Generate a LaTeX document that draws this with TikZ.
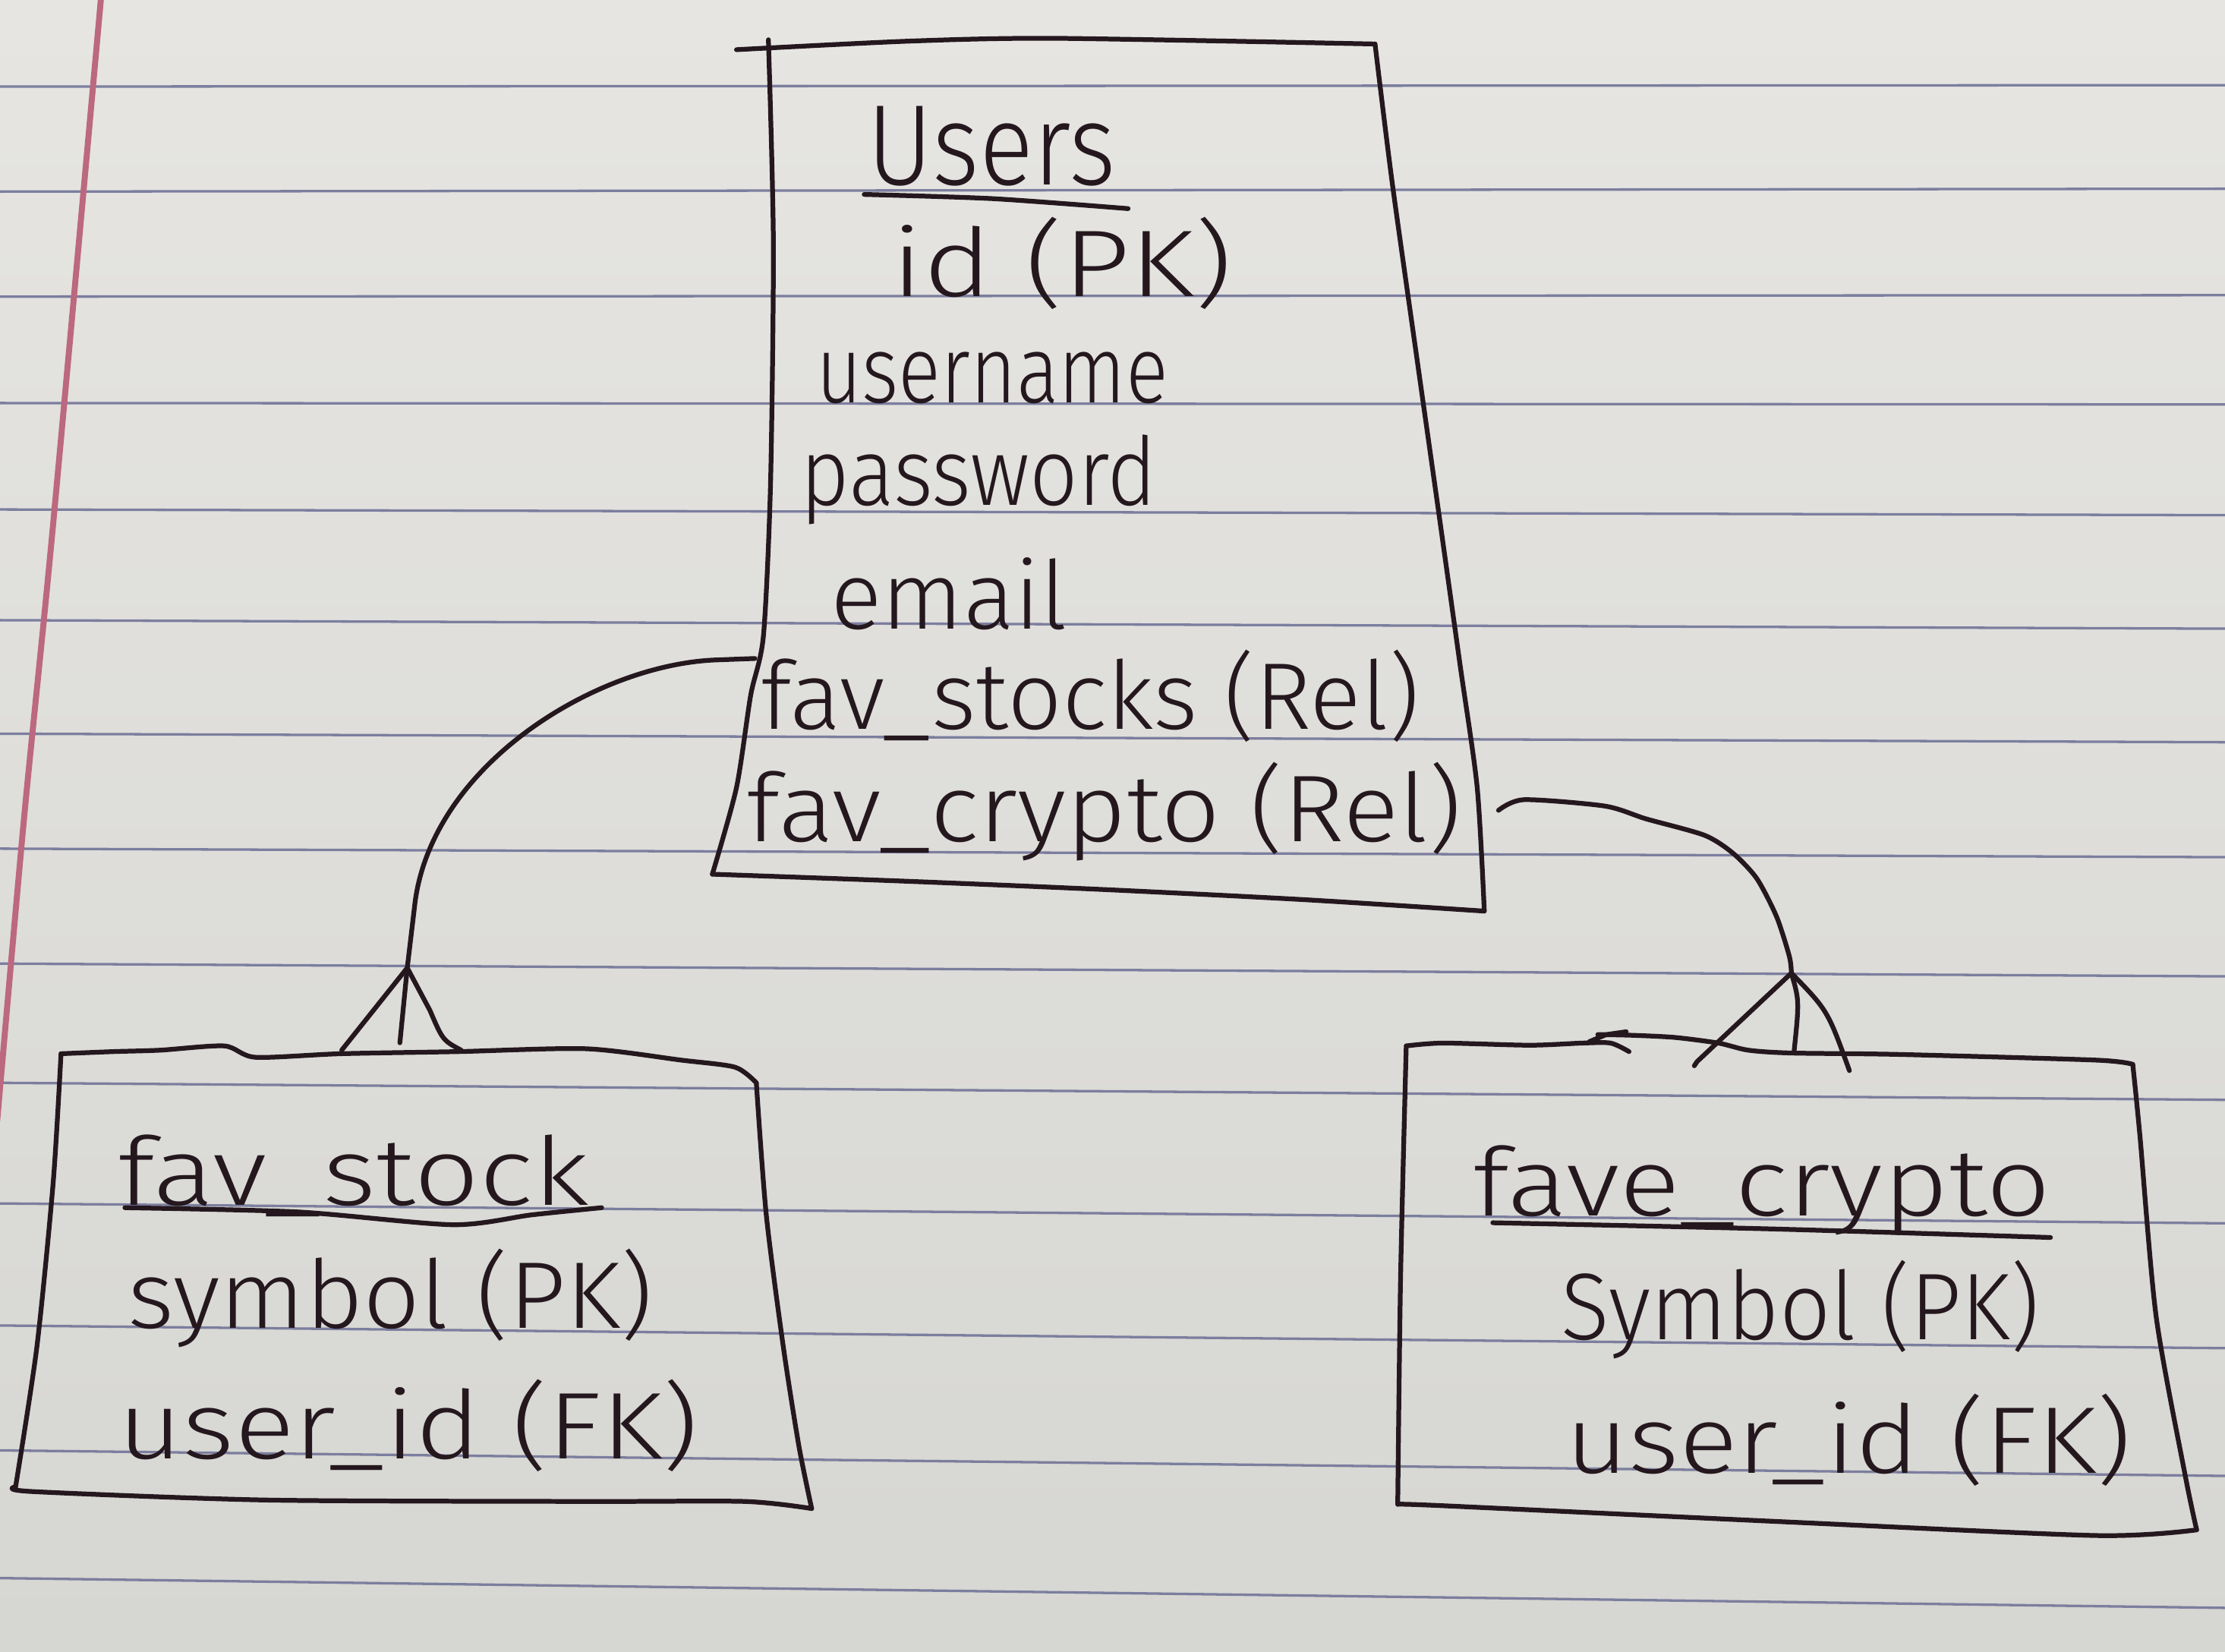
\documentclass[tikz,border=0pt]{standalone}
\usepackage{fontspec}
\setmainfont{Fira Sans Light}
\usepackage{graphicx}
\newlength\pxu \setlength\pxu{0.02cm}
\definecolor{ink}{RGB}{36,24,30}
\definecolor{rulec}{RGB}{124,126,158}
\definecolor{marginc}{RGB}{188,104,126}
\definecolor{papertop}{RGB}{230,229,226}
\definecolor{paperbot}{RGB}{214,214,210}
\newcommand{\hw}[2]{\resizebox{#1\pxu}{\height}{#2}}
\begin{document}
\begin{tikzpicture}[x=0.02cm,y=-0.02cm,
  ink/.style={draw=ink,line width=1.9pt,line cap=round,line join=round},
  txt/.style={anchor=base west,inner sep=0pt,text=ink,font=\fontsize{38}{42}\selectfont},
  ttl/.style={txt,font=\fontsize{46}{50}\selectfont},
  paperline/.style={draw=rulec,line width=1pt},
  hand/.style={ink,smooth,tension=0.45}
]
\useasboundingbox (0,0) rectangle (1568,1164);
\shade[top color=papertop,bottom color=paperbot] (0,0) rectangle (1568,1164);
\foreach \l/\r in {61/60,135/133,209/208,284/285,359/363,437/443,517/523,598/604,679/688,763/775,848/862,934/950,1022/1040,1112/1133}
  \draw[paperline] (0,\l) -- (1568,\r);
\draw[draw=marginc,line width=2.4pt] plot[smooth] coordinates {(71.5,-5) (37,374) (17,576) (-2,790)};

% ---------- Users box ----------
\draw[hand] plot coordinates {(519,35) (640,29) (744,27) (969,31)};
\draw[hand] plot coordinates {(541.5,28) (545,171) (543,341) (538,448) (529,490) (519,555) (502,616)};
\draw[hand] plot coordinates {(502,616) (640,621) (782,627) (920,634) (1046,642)};
\draw[hand] plot coordinates {(969,31) (981,128) (999,256) (1014,362) (1029,469) (1041,555) (1046,642)};

\node[ttl] (users) at (611,130) {\hw{175}{Users}};
\draw[hand] plot coordinates {(609,137) (700,140) (795,147)};
\node[txt] (uid) at (628,209) {\hw{240}{id (PK)}};
\node[txt] (uname) at (575,284) {\hw{248}{username}};
\node[txt] (upass) at (564,356) {\hw{251}{password}};
\node[txt] (umail) at (585,443) {\hw{167}{email}};
\node[txt] (ufs) at (536,514) {\hw{464}{fav\_stocks (Rel)}};
\node[txt] (ufc) at (526,593) {\hw{504}{fav\_crypto (Rel)}};

% ---------- fav_stock box ----------
\draw[hand] plot coordinates {(43,742.5) (80,741) (113,740) (158,737) (180,745) (240,742.5) (323,741) (413,739) (480,747) (518,752) (533,763)};
\draw[hand] plot coordinates {(533,763) (540,856) (552,949) (563,1019) (572,1063)};
\draw[hand] plot coordinates {(572,1063) (525,1058) (413,1058) (188,1057) (22.5,1051) (11,1047.6)};
\draw[hand] plot coordinates {(11,1047.6) (26,949) (37.5,833) (43,742.5)};

\node[txt] (fst) at (83,849) {\hw{332}{fav\_stock}};
\draw[hand] plot coordinates {(88,851) (210,854) (319,863) (375,856) (424,851)};
\node[txt] (fsym) at (90,936) {\hw{370}{symbol (PK)}};
\node[txt] (fuid) at (83,1028) {\hw{409}{user\_id (FK)}};

% ---------- fave_crypto box ----------
\draw[hand] plot coordinates {(991,737) (1017,735) (1078,736.5) (1115,735) (1135,735) (1148,741)};
\draw[ink] (1120,734) -- (1132,729) -- (1146,727);
\draw[hand] plot coordinates {(1126,729) (1150,729.5) (1180,731) (1211,735) (1232,740) (1262,742) (1338,743) (1477,747) (1503,750)};
\draw[hand] plot coordinates {(1503,750) (1508,800) (1519.5,928) (1540,1040) (1548,1078)};
\draw[hand] plot coordinates {(1548,1078) (1477,1082) (1250,1072) (1017,1061) (985,1060)};
\draw[hand] plot coordinates {(985,1060) (987,900) (991,737)};

\node[txt] (cst) at (1038,857) {\hw{407}{fave\_crypto}};
\draw[hand] plot coordinates {(1052,861.6) (1250,866) (1445,872)};
\node[txt] (csym) at (1100,944) {\hw{337}{Symbol (PK)}};
\node[txt] (cuid) at (1103,1038) {\hw{399}{user\_id (FK)}};

% ---------- connectors ----------
\coordinate (uL) at (532,464);
\coordinate (fsA) at (287,682);
\coordinate (uR) at (1056,571);
\coordinate (fcA) at (1262.4,685.7);

\draw[ink] (uL) -- (505,465) .. controls (420,468) and (302,540) .. (292,640) -- (fsA);
\draw[ink] (fsA) -- (240.8,740);
\draw[ink] (fsA) -- (281.8,734.8);
\draw[ink] (fsA) -- (303,712) .. controls (312,733) .. (325,740);

\draw[hand] plot coordinates {(uR) (1074,563.5) (1131,568) (1160,577) (1201,588.5) (1221,601) (1238,619) (1252,646) (1261,674) (fcA)};
\draw[ink] (fcA) -- (1196,748) -- (1194,751);
\draw[ink] (fcA) .. controls (1268,705) .. (1264.4,740);
\draw[ink] (fcA) .. controls (1288,712) .. (1303.3,754.4);
\end{tikzpicture}
\end{document}
